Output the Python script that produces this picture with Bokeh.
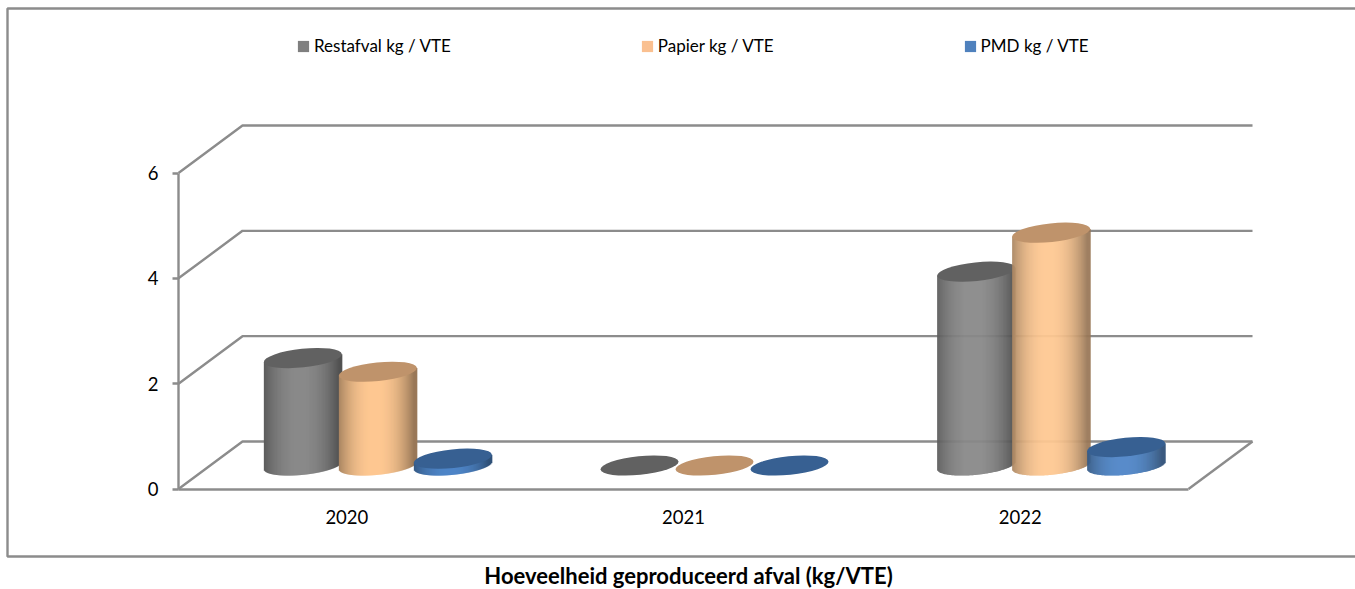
import math
import numpy as np
from bokeh.plotting import figure
from bokeh.models import Range1d, FixedTicker, BoxAnnotation, Legend, LegendItem, Label
from bokeh.embed import file_html
from bokeh.resources import INLINE

# ---- data
years = ["2020", "2021", "2022"]
series_names = ["Restafval kg / VTE", "Papier kg / VTE", "PMD kg / VTE"]
restafval = [2.04, 0.0, 3.68]
papier = [1.78, 0.0, 4.42]
pmd = [0.13, 0.0, 0.35]
y_ticks = [0, 2, 4, 6]
title_text = "Hoeveelheid geproduceerd afval (kg/VTE)"

# ---- colours
body_colors = ["#8A8A8A", "#FFC993", "#4F86C8"]
top_colors = ["#616161", "#BF936B", "#376092"]
swatch_colors = ["#7F7F7F", "#FAC090", "#4F81BD"]
line_gray = "#8C8C8C"

# ---- layout (pixels on the canvas)
W, H = 1355, 589
left, base = 178, 488.5
px_x = 336.67         # pixels per category
px_y = 316.0 / 6.0    # pixels per unit
depth_x, depth_y = 64 / px_x, 47.5 / px_y
bar_depth_x, bar_depth_y = 31 / px_x, 23.5 / px_y
bar_step = 75 / px_x
a, b, theta = 39.2, 9.3, math.radians(6)

p = figure(width=W, height=H, output_backend="svg", toolbar_location=None,
           x_range=Range1d(-left / px_x, (W - left) / px_x),
           y_range=Range1d(-(H - base) / px_y, base / px_y),
           min_border=0, outline_line_color=None, background_fill_color=None)
p.grid.visible = False

FONT = "Lato"
ax = p.xaxis[0]
ax.fixed_location = 0
ax.ticker = FixedTicker(ticks=[i + 0.5 for i in range(len(years))])
ax.major_label_overrides = {i + 0.5: y for i, y in enumerate(years)}
ax.bounds = (0, len(years))
ax.axis_line_color = line_gray
ax.axis_line_width = 2.4
ax.major_tick_line_color = None
ax.minor_tick_line_color = None
ax.major_label_text_font = FONT
ax.major_label_text_font_size = "18.5px"
ax.major_label_text_color = "#000000"
ax.major_label_standoff = 15

ay = p.yaxis[0]
ay.fixed_location = 0
ay.ticker = FixedTicker(ticks=y_ticks)
ay.bounds = (0, 6)
ay.axis_line_color = line_gray
ay.axis_line_width = 2.4
ay.major_tick_line_color = line_gray
ay.major_tick_line_width = 2.4
ay.major_tick_out = 6
ay.major_tick_in = 0
ay.minor_tick_line_color = None
ay.major_label_text_font = FONT
ay.major_label_text_font_size = "18.5px"
ay.major_label_text_color = "#000000"
ay.major_label_standoff = 14

# chart frame
p.add_layout(BoxAnnotation(left=7, right=W + 10, top=8, bottom=556,
                           left_units="canvas", right_units="canvas", top_units="canvas", bottom_units="canvas",
                           fill_color=None, line_color=line_gray, line_alpha=1.0, line_width=2.4, level="underlay"))

# chart caption under the frame
p.add_layout(Label(x=688, y=575, x_units="canvas", y_units="canvas", text=title_text,
                   text_align="center", text_baseline="middle", text_font=FONT, text_font_style="bold",
                   text_font_size="22px", text_color="#000000"))

# walls and floor
n = len(years)
xs, ys = [], []
for t in y_ticks:
    xs.append([0, depth_x, n + depth_x])
    ys.append([t, t + depth_y, t + depth_y])
xs.append([n, n + depth_x])
ys.append([0, depth_y])
p.multi_line(xs, ys, line_color=line_gray, line_width=2.4)


def lower_arc(u):
    c, s = math.cos(theta), math.sin(theta)
    A = c * c / a**2 + s * s / b**2
    B = 2 * s * c * (1 / a**2 - 1 / b**2)
    C = s * s / a**2 + c * c / b**2
    disc = np.maximum(B * B * u * u - 4 * C * (A * u * u - 1), 0)
    return (-B * u - np.sqrt(disc)) / (2 * C)


half_w = math.sqrt((a * math.cos(theta))**2 + (b * math.sin(theta))**2)
edges = np.arange(-half_w, half_w, 1.0)
mids = edges + 0.5


def shade(hex_col, f):
    r, g, bl = [int(hex_col[i:i + 2], 16) for i in (1, 3, 5)]
    return "#%02x%02x%02x" % (int(r * f), int(g * f), int(bl * f))


shades = 0.6 + 0.4 * (1 - np.abs((mids + 3) / half_w) ** 2.2).clip(0)
arc = lower_arc(mids) / px_y

for si, vals in enumerate([restafval, papier, pmd]):
    L, R, B_, T, C_ = [], [], [], [], []
    cx, cy = [], []
    for ci, v in enumerate(vals):
        x0 = ci + 0.5 + bar_depth_x + (si - 1) * bar_step
        y0 = bar_depth_y
        cx.append(x0)
        cy.append(y0 + v)
        if v > 0:
            for e, sh, ar in zip(edges, shades, arc):
                L.append(x0 + e / px_x)
                R.append(x0 + (e + 1.5) / px_x)
                B_.append(y0 + ar)
                T.append(y0 + v + ar + 1.5 / px_y)
                C_.append(shade(body_colors[si], sh))
    p.quad(left=L, right=R, bottom=B_, top=T, fill_color=C_, line_color=None)
    p.ellipse(cx, cy, width=2 * a, height=2 * b, angle=theta, width_units="screen", height_units="screen",
              fill_color=top_colors[si], line_color=None)

# legend
items = []
for name, col in zip(series_names, swatch_colors):
    r = p.quad(left=[float("nan")], right=[float("nan")], bottom=[float("nan")], top=[float("nan")],
               fill_color=col, line_color=None)
    items.append(LegendItem(label=name, renderers=[r]))
leg = Legend(items=items, orientation="horizontal", location=(296, 533), spacing=189,
             glyph_width=14, glyph_height=14, label_standoff=4, padding=0, margin=0,
             border_line_color=None, background_fill_color=None,
             label_text_font=FONT, label_text_font_size="17px", label_text_color="#000000")
p.add_layout(leg, "center")

open("out.html", "w").write(file_html(p, INLINE))
